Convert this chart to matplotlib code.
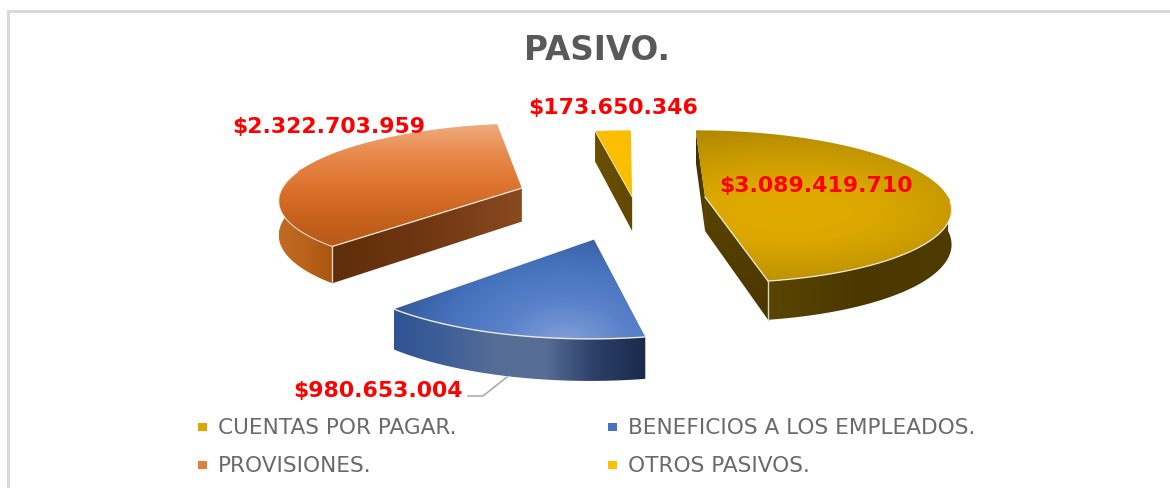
import numpy as np
import matplotlib
matplotlib.use("Agg")
import matplotlib.pyplot as plt
from matplotlib.colors import LinearSegmentedColormap as LSC
from matplotlib.patches import Polygon, Rectangle

title = "PASIVO."
categories = ["CUENTAS POR PAGAR.", "BENEFICIOS A LOS EMPLEADOS.", "PROVISIONES.", "OTROS PASIVOS."]
values = [3089419710, 980653004, 2322703959, 173650346]

# style / layout
offsets = [(0.35, 0.0), (-0.10, -0.53), (-0.41, 0.12), (0.05, 0.0)]
swatches = ["#dba700", "#4472c4", "#e67e38", "#ffc000"]
label_pos = [(816, 186), (378, 391), (329, 127), (613, 108)]
legend_pos = [(202, 428), (612, 428), (202, 466), (612, 466)]
X0, Y0, AX, BY, PERSP, DEPTH = 620, 198, 243, 75, 0.125, 34

fig = plt.figure(figsize=(11.7, 4.89), dpi=100, facecolor="white")
ax = fig.add_axes([0, 0, 1, 1])
ax.set_xlim(0, 1170)
ax.set_ylim(489, 0)
ax.axis("off")

frac = np.array(values, float) / np.sum(values)
edges = np.concatenate([[0], np.cumsum(frac)]) * 2 * np.pi


def proj(X, Y, z=0.0):
    w = 1 + PERSP * Y
    return X0 + AX * X / w, Y0 - BY * Y / w + z * DEPTH / w


def rim(i, t0, t1, z=0.0, n=80):
    t = np.linspace(t0, t1, n)
    ox, oy = offsets[i]
    return np.column_stack(proj(ox + np.sin(t), oy + np.cos(t), z))


def apex(i, z=0.0):
    return np.array(proj(offsets[i][0], offsets[i][1], z))


def fill(poly, rgba, zorder):
    xmin, ymin = poly.min(0)
    xmax, ymax = poly.max(0)
    patch = Polygon(poly, closed=True, transform=ax.transData, fc="none", ec="none")
    ax.add_patch(patch)
    im = ax.imshow(rgba, extent=(xmin, xmax, ymax, ymin), origin="upper", aspect="auto",
                   interpolation="bilinear", zorder=zorder)
    im.set_clip_path(patch)


def linear(poly, stops, zorder, vertical=False):
    cm = LSC.from_list("g", stops)
    g = np.linspace(0, 1, 256)
    arr = cm(g[:, None]) if vertical else cm(g[None, :])
    fill(poly, arr, zorder)


def radial(poly, centre, radius, stops, zorder, yscale=1.0):
    cm = LSC.from_list("r", stops)
    xmin, ymin = poly.min(0)
    xmax, ymax = poly.max(0)
    xx, yy = np.meshgrid(np.linspace(xmin, xmax, 300), np.linspace(ymin, ymax, 200))
    d = np.hypot(xx - centre[0], (yy - centre[1]) * yscale) / radius
    fill(poly, cm(np.clip(d, 0, 1)), zorder)


def face(i, t0, t1):
    return np.vstack([rim(i, t0, t1), rim(i, t1, t0, 1.0)])


def cut(i, t):
    p = rim(i, t, t, n=1)
    q = rim(i, t, t, 1.0, n=1)
    return np.vstack([apex(i), p, q, apex(i, 1.0)])


def sector(i):
    return np.vstack([apex(i), rim(i, edges[i], edges[i + 1])])


LIGHT = "#efe9dc"
# 0 gold
linear(cut(0, edges[0]), ["#3f2f00", "#5a4400"], 2)
linear(face(0, np.pi * 0.5, edges[1]), ["#5a4500", "#4b3800", "#4f3b00"], 3)
linear(cut(0, edges[1]), ["#5a4400", "#4a3600"], 4, vertical=True)
radial(sector(0), (790, 212), 250, ["#e0aa00", "#dca800", "#c89a00", "#b08800"], 5, yscale=2.9)
ax.plot(*rim(0, np.pi * 0.52, edges[1]).T, color=LIGHT, lw=0.9, zorder=6)
ax.plot(*np.vstack([apex(0), rim(0, edges[1], edges[1], n=1)]).T, color=LIGHT, lw=0.9, zorder=6)
ax.plot(*np.vstack([rim(0, edges[1], edges[1], n=1), rim(0, edges[1], edges[1], 1.0, n=1)]).T,
        color="#d9d3c4", lw=1.0, zorder=6)

# 1 blue
linear(face(1, edges[1], edges[2]), ["#2f5492", "#3e5f98", "#566d96", "#586e96", "#2b3f68", "#1a2a4c"], 3)
radial(sector(1), (565, 345), 190, ["#85a0d8", "#5a82cb", "#4470ba", "#2f5390"], 5, yscale=1.5)
ax.plot(*rim(1, edges[1], edges[2]).T, color=LIGHT, lw=1.0, zorder=6)

# 2 orange
linear(cut(2, edges[2]), ["#5f2e0a", "#703712", "#8a4a20"], 3)
linear(face(2, edges[2], np.radians(286)), ["#c06c24", "#b8621a", "#a85610"], 2)
linear(sector(2), ["#efac80", "#e88a4c", "#de7430", "#c8631d", "#b95a18"], 5, vertical=True)
ax.plot(*np.vstack([apex(2), rim(2, edges[2], edges[2], n=1)]).T, color=LIGHT, lw=0.9, zorder=6)
ax.plot(*rim(2, np.radians(223), np.radians(283)).T, color=LIGHT, lw=0.7, zorder=6)
ax.plot(*np.vstack([rim(2, edges[2], edges[2], n=1), rim(2, edges[2], edges[2], 1.0, n=1)]).T,
        color="#e0d6c8", lw=1.0, zorder=6)

# 3 yellow
linear(cut(3, edges[3]), ["#6a5000", "#604800"], 3)
linear(sector(3), ["#fcbe00", "#fcbe00"], 5, vertical=True)
ax.plot(*np.vstack([apex(3), rim(3, edges[3], edges[3], n=1)]).T, color=LIGHT, lw=0.6, zorder=6)

ax.set_xlim(0, 1170)
ax.set_ylim(489, 0)

# frame
ax.plot([8, 8, 1170], [489, 12, 12], color="#d9d9d9", lw=2.2, zorder=1, solid_joinstyle="miter")

# title
ax.text(597, 51, title, ha="center", va="center", fontsize=23.5, fontweight="bold",
        family="DejaVu Sans", color="#595959", zorder=8)

# data labels
for v, (x, y) in zip(values, label_pos):
    ax.text(x, y, "$" + f"{v:,}".replace(",", "."), ha="center", va="center", fontsize=15.8,
            fontweight="bold", family="DejaVu Sans", color="#ff0000", zorder=8)
ax.plot([468, 483, 507], [397, 397, 378], color="#a6a6a6", lw=1.1, zorder=4)

# legend
for name, col, (x, y) in zip(categories, swatches, legend_pos):
    ax.add_patch(Rectangle((x - 4, y - 4), 8.5, 8, fc=col, ec="none", zorder=7))
    ax.text(x + 16, y, name, ha="left", va="center", fontsize=15.6, family="DejaVu Sans",
            color="#6a6a6a", zorder=8)

fig.savefig("out.png", dpi=100, facecolor="white")
